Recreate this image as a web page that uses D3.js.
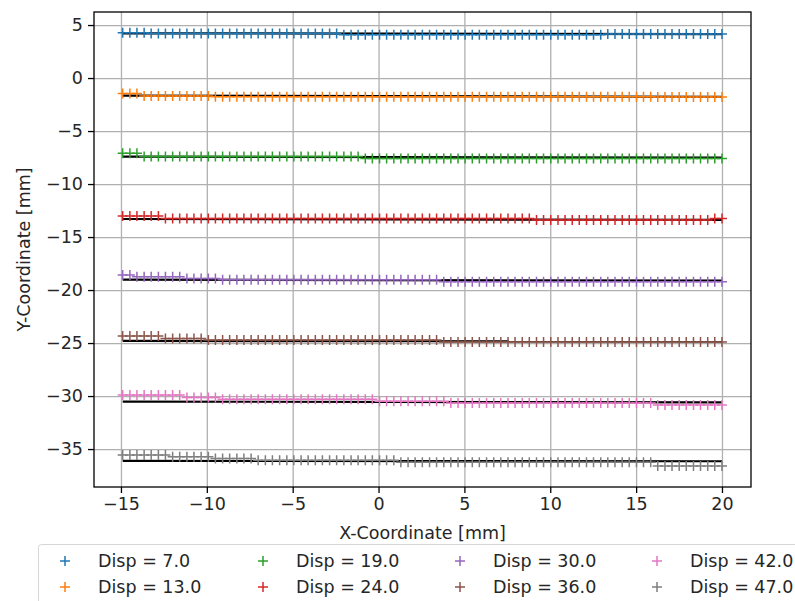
<!DOCTYPE html>
<html>
<head>
<meta charset="utf-8">
<script src="https://cdn.jsdelivr.net/npm/d3@7"></script>
<style>
  body { margin: 0; background: #fff; }
  svg { display: block; font-family: "DejaVu Sans", sans-serif; }
</style>
</head>
<body>
<svg id="chart"></svg>
<script>
// Data
const xCoords = [
  -14.90, -14.48, -14.07, -13.65, -13.24, -12.82, -12.41, -11.99, -11.58, -11.16,
  -10.75, -10.33, -9.91, -9.50, -9.08, -8.67, -8.25, -7.84, -7.42, -7.01,
  -6.59, -6.18, -5.76, -5.34, -4.93, -4.51, -4.10, -3.68, -3.27, -2.85,
  -2.44, -2.02, -1.60, -1.19, -0.77, -0.36, 0.06, 0.47, 0.89, 1.30,
  1.72, 2.13, 2.55, 2.97, 3.38, 3.80, 4.21, 4.63, 5.04, 5.46,
  5.87, 6.29, 6.71, 7.12, 7.54, 7.95, 8.37, 8.78, 9.20, 9.61,
  10.03, 10.45, 10.86, 11.28, 11.69, 12.11, 12.52, 12.94, 13.35, 13.77,
  14.19, 14.60, 15.02, 15.43, 15.85, 16.26, 16.68, 17.09, 17.51, 17.92,
  18.34, 18.75, 19.17, 19.58, 20.00
];

const dispLabels = ["Disp = 7.0", "Disp = 13.0", "Disp = 19.0", "Disp = 24.0",
                    "Disp = 30.0", "Disp = 36.0", "Disp = 42.0", "Disp = 47.0"];

const yDisp7 = [
  4.27, 4.27, 4.27, 4.27, 4.20, 4.20, 4.20, 4.20, 4.20, 4.20,
  4.20, 4.20, 4.20, 4.20, 4.20, 4.20, 4.20, 4.20, 4.20, 4.20,
  4.20, 4.20, 4.20, 4.20, 4.20, 4.20, 4.20, 4.20, 4.20, 4.20,
  4.20, 4.08, 4.08, 4.08, 4.08, 4.08, 4.08, 4.08, 4.08, 4.08,
  4.08, 4.08, 4.08, 4.08, 4.08, 4.08, 4.08, 4.08, 4.08, 4.08,
  4.08, 4.08, 4.08, 4.08, 4.08, 4.08, 4.08, 4.08, 4.08, 4.08,
  4.08, 4.08, 4.08, 4.08, 4.08, 4.08, 4.08, 4.08, 4.15, 4.15,
  4.15, 4.15, 4.15, 4.15, 4.15, 4.15, 4.15, 4.15, 4.15, 4.15,
  4.15, 4.15, 4.15, 4.15, 4.15
];
const yDisp13 = [
  -1.45, -1.45, -1.45, -1.70, -1.70, -1.70, -1.70, -1.70, -1.70, -1.70,
  -1.70, -1.70, -1.70, -1.76, -1.76, -1.76, -1.76, -1.76, -1.76, -1.76,
  -1.76, -1.76, -1.76, -1.76, -1.76, -1.76, -1.76, -1.76, -1.76, -1.76,
  -1.76, -1.76, -1.76, -1.76, -1.76, -1.76, -1.76, -1.76, -1.76, -1.76,
  -1.76, -1.76, -1.76, -1.76, -1.76, -1.76, -1.76, -1.76, -1.76, -1.76,
  -1.76, -1.76, -1.76, -1.76, -1.76, -1.76, -1.76, -1.76, -1.76, -1.76,
  -1.76, -1.76, -1.76, -1.76, -1.76, -1.76, -1.76, -1.76, -1.76, -1.76,
  -1.76, -1.76, -1.76, -1.76, -1.76, -1.80, -1.80, -1.80, -1.80, -1.80,
  -1.80, -1.80, -1.80, -1.80, -1.80
];
const yDisp19 = [
  -7.10, -7.10, -7.10, -7.40, -7.40, -7.40, -7.40, -7.40, -7.40, -7.40,
  -7.40, -7.40, -7.40, -7.40, -7.40, -7.40, -7.40, -7.40, -7.40, -7.40,
  -7.40, -7.40, -7.40, -7.40, -7.40, -7.40, -7.40, -7.40, -7.40, -7.40,
  -7.40, -7.40, -7.40, -7.40, -7.58, -7.58, -7.58, -7.58, -7.58, -7.58,
  -7.58, -7.58, -7.58, -7.58, -7.58, -7.58, -7.58, -7.58, -7.58, -7.58,
  -7.58, -7.58, -7.58, -7.58, -7.58, -7.58, -7.58, -7.58, -7.58, -7.58,
  -7.58, -7.58, -7.58, -7.58, -7.58, -7.58, -7.58, -7.58, -7.58, -7.58,
  -7.58, -7.58, -7.58, -7.58, -7.58, -7.58, -7.58, -7.58, -7.58, -7.58,
  -7.58, -7.58, -7.58, -7.58, -7.58
];
const yDisp24 = [
  -13.02, -13.02, -13.02, -13.02, -13.02, -13.02, -13.24, -13.24, -13.24, -13.24,
  -13.24, -13.24, -13.24, -13.24, -13.24, -13.24, -13.24, -13.24, -13.24, -13.24,
  -13.24, -13.24, -13.24, -13.24, -13.24, -13.24, -13.24, -13.24, -13.24, -13.24,
  -13.24, -13.24, -13.24, -13.24, -13.24, -13.24, -13.24, -13.24, -13.24, -13.24,
  -13.24, -13.24, -13.24, -13.24, -13.24, -13.24, -13.24, -13.24, -13.24, -13.24,
  -13.24, -13.24, -13.24, -13.24, -13.24, -13.24, -13.24, -13.24, -13.40, -13.40,
  -13.40, -13.40, -13.40, -13.40, -13.40, -13.40, -13.40, -13.40, -13.40, -13.40,
  -13.40, -13.40, -13.40, -13.40, -13.40, -13.40, -13.40, -13.40, -13.40, -13.40,
  -13.40, -13.40, -13.40, -13.25, -13.25
];
const yDisp30 = [
  -18.58, -18.58, -18.74, -18.74, -18.74, -18.74, -18.74, -18.74, -18.74, -18.90,
  -18.90, -18.90, -18.90, -18.90, -19.02, -19.02, -19.02, -19.02, -19.02, -19.02,
  -19.02, -19.02, -19.02, -19.02, -19.02, -19.02, -19.02, -19.02, -19.02, -19.02,
  -19.02, -19.02, -19.02, -19.02, -19.02, -19.02, -19.02, -19.02, -19.02, -19.02,
  -19.02, -19.02, -19.02, -19.02, -19.02, -19.22, -19.22, -19.22, -19.22, -19.22,
  -19.22, -19.22, -19.22, -19.22, -19.22, -19.22, -19.22, -19.22, -19.22, -19.22,
  -19.22, -19.22, -19.22, -19.22, -19.22, -19.22, -19.22, -19.22, -19.22, -19.22,
  -19.22, -19.22, -19.22, -19.22, -19.22, -19.22, -19.22, -19.22, -19.22, -19.22,
  -19.22, -19.22, -19.22, -19.22, -19.22
];
const yDisp36 = [
  -24.34, -24.34, -24.34, -24.34, -24.34, -24.34, -24.56, -24.56, -24.56, -24.56,
  -24.56, -24.56, -24.72, -24.72, -24.72, -24.72, -24.72, -24.72, -24.72, -24.72,
  -24.72, -24.72, -24.72, -24.72, -24.72, -24.72, -24.72, -24.72, -24.72, -24.72,
  -24.72, -24.72, -24.72, -24.72, -24.72, -24.72, -24.72, -24.72, -24.72, -24.72,
  -24.72, -24.72, -24.72, -24.72, -24.72, -24.90, -24.90, -24.90, -24.90, -24.90,
  -24.90, -24.90, -24.90, -24.90, -24.90, -24.90, -24.90, -24.90, -24.90, -24.90,
  -24.90, -24.90, -24.90, -24.90, -24.90, -24.90, -24.90, -24.90, -24.90, -24.90,
  -24.90, -24.90, -24.90, -24.90, -24.90, -24.90, -24.90, -24.90, -24.90, -24.90,
  -24.90, -24.90, -24.90, -24.90, -24.90
];
const yDisp42 = [
  -29.90, -29.90, -29.90, -29.90, -29.90, -29.90, -29.90, -29.90, -29.90, -30.13,
  -30.13, -30.13, -30.13, -30.13, -30.31, -30.31, -30.31, -30.31, -30.31, -30.31,
  -30.31, -30.31, -30.31, -30.31, -30.31, -30.31, -30.31, -30.31, -30.31, -30.31,
  -30.31, -30.31, -30.31, -30.31, -30.31, -30.31, -30.50, -30.50, -30.50, -30.50,
  -30.50, -30.50, -30.50, -30.50, -30.50, -30.50, -30.66, -30.66, -30.66, -30.66,
  -30.66, -30.66, -30.66, -30.66, -30.66, -30.66, -30.66, -30.66, -30.66, -30.66,
  -30.66, -30.66, -30.66, -30.66, -30.66, -30.66, -30.66, -30.66, -30.66, -30.66,
  -30.66, -30.66, -30.66, -30.66, -30.66, -30.85, -30.85, -30.85, -30.85, -30.85,
  -30.85, -30.85, -30.85, -30.85, -30.85
];
const yDisp47 = [
  -35.57, -35.57, -35.57, -35.57, -35.57, -35.57, -35.57, -35.72, -35.72, -35.72,
  -35.72, -35.72, -35.72, -35.88, -35.88, -35.88, -35.88, -35.88, -35.88, -36.05,
  -36.05, -36.05, -36.05, -36.05, -36.05, -36.05, -36.05, -36.05, -36.05, -36.05,
  -36.05, -36.05, -36.05, -36.05, -36.05, -36.05, -36.05, -36.05, -36.05, -36.25,
  -36.25, -36.25, -36.25, -36.25, -36.25, -36.25, -36.25, -36.25, -36.25, -36.25,
  -36.25, -36.25, -36.25, -36.25, -36.25, -36.25, -36.25, -36.25, -36.25, -36.25,
  -36.25, -36.25, -36.25, -36.25, -36.25, -36.25, -36.25, -36.25, -36.25, -36.25,
  -36.25, -36.25, -36.25, -36.25, -36.25, -36.60, -36.60, -36.60, -36.60, -36.60,
  -36.60, -36.60, -36.60, -36.60, -36.60
];
const seriesY = [yDisp7, yDisp13, yDisp19, yDisp24, yDisp30, yDisp36, yDisp42, yDisp47];

// black reference lines: value at left end and right end
const refX = [-14.9, 20.0];
const refStart = [4.22, -1.65, -7.42, -13.30, -19.02, -24.80, -30.52, -36.12];
const refEnd = [4.15, -1.78, -7.50, -13.38, -19.12, -24.85, -30.60, -36.15];

const xTicks = [-15, -10, -5, 0, 5, 10, 15, 20];
const yTicks = [5, 0, -5, -10, -15, -20, -25, -30, -35];

// Configuration
let width = 795
let height = 601
let marginLeft = 94 // left of axes
let marginRight = 44
let marginTop = 12
let marginBottom = 114
let xDomain = [-16.57, 21.69]
let yDomain = [-38.58, 6.23]
let colors = d3.schemeCategory10
let markerHalf = 5
let fontSize = 17.5
let textColor = "#262626"

const xScale = d3.scaleLinear(xDomain, [marginLeft, width - marginRight]);
const yScale = d3.scaleLinear(yDomain, [height - marginBottom, marginTop]);
const plusPath = `M${-markerHalf},0H${markerHalf}M0,${-markerHalf}V${markerHalf}`;

const svg = d3.select("#chart")
    .attr("width", width)
    .attr("height", height)
    .attr("viewBox", [0, 0, width, height]);

svg.append("rect").attr("width", width).attr("height", height).attr("fill", "#fff");

const plotW = width - marginLeft - marginRight;
const plotH = height - marginTop - marginBottom;

// grid + axes
svg.append("g")
    .attr("transform", `translate(0,${height - marginBottom})`)
    .call(d3.axisBottom(xScale).tickValues(xTicks).tickSize(6).tickPadding(5).tickFormat(d3.format("d")))
    .call(g => g.select(".domain").remove())
    .call(g => g.selectAll(".tick line").clone()
        .attr("y2", -plotH)
        .attr("stroke", "#b0b0b0"))
    .call(g => g.selectAll(".tick text").attr("font-size", fontSize).attr("fill", textColor));

svg.append("g")
    .attr("transform", `translate(${marginLeft},0)`)
    .call(d3.axisLeft(yScale).tickValues(yTicks).tickSize(6).tickPadding(5).tickFormat(d3.format("d")))
    .call(g => g.select(".domain").remove())
    .call(g => g.selectAll(".tick line").clone()
        .attr("x2", plotW)
        .attr("stroke", "#b0b0b0"))
    .call(g => g.selectAll(".tick text").attr("font-size", fontSize).attr("fill", textColor));

svg.selectAll(".tick line").attr("stroke-width", 1.3);
svg.selectAll(".tick text").attr("font-family", "DejaVu Sans, sans-serif");

// black reference lines under markers
const plotG = svg.append("g");
plotG.selectAll("line.ref")
    .data(refStart)
    .join("line")
    .attr("class", "ref")
    .attr("x1", xScale(refX[0]))
    .attr("x2", xScale(refX[1]))
    .attr("y1", d => yScale(d))
    .attr("y2", (d, i) => yScale(refEnd[i]))
    .attr("stroke", "#000")
    .attr("stroke-width", 2.2);

// markers
plotG.selectAll("g.series")
    .data(seriesY)
    .join("g")
    .attr("class", "series")
    .attr("stroke", (d, i) => colors[i])
    .attr("stroke-width", 1.5)
    .attr("fill", "none")
    .selectAll("path")
    .data(d => d.map((y, j) => [xCoords[j], y]))
    .join("path")
    .attr("d", plusPath)
    .attr("transform", d => `translate(${xScale(d[0])},${yScale(d[1])})`);

// frame
svg.append("rect")
    .attr("x", marginLeft)
    .attr("y", marginTop)
    .attr("width", plotW)
    .attr("height", plotH)
    .attr("fill", "none")
    .attr("stroke", "#000")
    .attr("stroke-width", 1.3);

// legend (4 columns, 2 rows, filled column first)
const legendColX = [65, 263, 460, 657];
const legendRowY = [561, 587];
const legend = svg.append("g");
legend.append("rect")
    .attr("x", 38.5)
    .attr("y", 544.5)
    .attr("width", 780)
    .attr("height", 70)
    .attr("rx", 3)
    .attr("fill", "#fff")
    .attr("fill-opacity", 0.8)
    .attr("stroke", "#d6d6d6")
    .attr("stroke-width", 1);

const item = legend.selectAll("g.item")
    .data(dispLabels)
    .join("g")
    .attr("class", "item")
    .attr("transform", (d, i) => `translate(${legendColX[Math.floor(i / 2)]},${legendRowY[i % 2]})`);

item.append("path")
    .attr("d", plusPath)
    .attr("stroke", (d, i) => colors[i])
    .attr("stroke-width", 1.5)
    .attr("fill", "none");

item.append("text")
    .attr("x", 33)
    .attr("dy", "0.35em")
    .attr("font-size", fontSize)
    .attr("fill", textColor)
    .text(d => d);

// axis labels (drawn after the legend so the x label stays readable)
svg.append("text")
    .attr("x", marginLeft + plotW / 2)
    .attr("y", 539)
    .attr("text-anchor", "middle")
    .attr("font-size", fontSize)
    .attr("fill", textColor)
    .text("X-Coordinate [mm]");

svg.append("text")
    .attr("transform", `translate(30,${marginTop + plotH / 2}) rotate(-90)`)
    .attr("text-anchor", "middle")
    .attr("font-size", fontSize)
    .attr("fill", textColor)
    .text("Y-Coordinate [mm]");
</script>
</body>
</html>
